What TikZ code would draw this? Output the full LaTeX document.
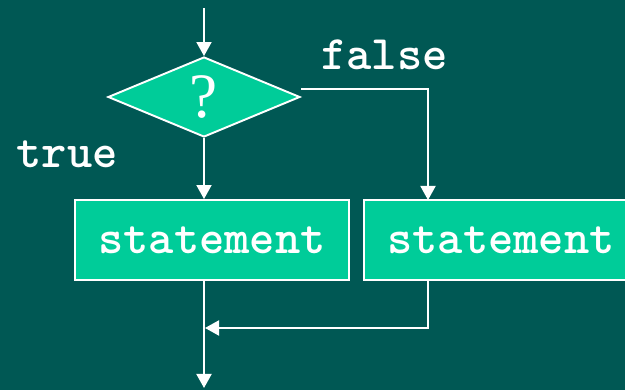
\documentclass[tikz,border=0pt]{standalone}
\usepackage{fontspec}
\newfontfamily\qfont{Liberation Serif}
\usetikzlibrary{shapes.geometric,arrows.meta}
\definecolor{bgteal}{RGB}{0,88,84}
\definecolor{boxgreen}{RGB}{0,204,153}
\tikzset{
	flow/.style={draw=white, line width=1.1pt, -{Triangle[length=0.28cm,width=0.3cm]}},
	stmt/.style={draw=white, line width=1.1pt, fill=boxgreen, minimum width=5.48cm, minimum height=1.6cm, inner sep=0pt, text=white, font=\ttfamily\bfseries\fontsize{27.4}{30}\selectfont},
	lbl/.style={text=white, anchor=base, inner sep=0pt, font=\ttfamily\bfseries\fontsize{27.4}{30}\selectfont}
}
\begin{document}
\begin{tikzpicture}
		% Background
		\fill[bgteal] (0,0) rectangle (12.5,7.8);
		\clip (0,0) rectangle (12.5,7.8);
		\useasboundingbox (0,0) rectangle (12.5,7.8);
		
		% Decision
		\node[diamond, draw=white, line width=1.1pt, fill=boxgreen, aspect=2.4, minimum width=3.84cm, minimum height=1.6cm, inner sep=0pt, text=white, font=\qfont\fontsize{36}{40}\selectfont] (dia) at (4.08,5.86) {?};
		
		% Statements
		\node[stmt] (st1) at (4.24,3.0) {statement};
		\node[stmt] (st2) at (10.02,3.0) {statement};
		
		% Labels
		\node[lbl] (lfalse) at (7.69,6.4) {false};
		\node[lbl] (ltrue) at (1.34,4.44) {true};
		
		% Free ends
		\coordinate (in) at (4.08,7.64);
		\coordinate (fstart) at ([yshift=0.16cm]dia.east);
		\coordinate (fdown) at (8.56,3.8);
		\coordinate (merge) at (4.1,1.24);
		\coordinate (out) at (4.08,0.04);
		
		% Connectors
		\draw[flow] (in) -- (dia.north);
		\draw[flow] (dia.south) -- (dia.south |- st1.north);
		\draw[flow] (fstart) -| (fdown);
		\draw[flow] (dia.south |- st1.south) -- (out);
		\draw[flow] (fdown |- st2.south) |- (merge);
\end{tikzpicture}
\end{document}
